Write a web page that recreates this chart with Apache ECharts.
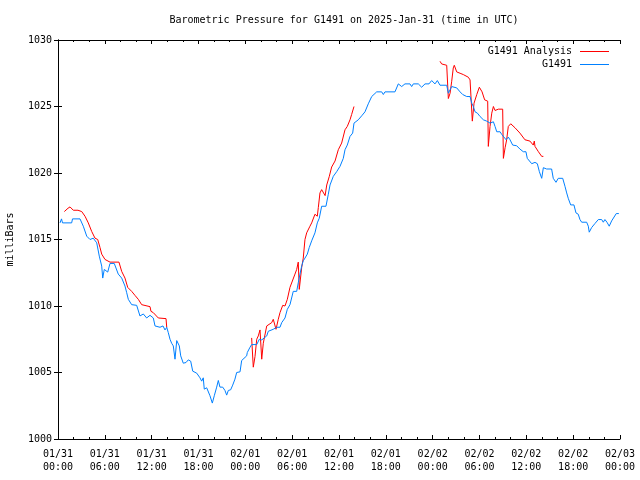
<!DOCTYPE html>
<html>
<head>
<meta charset="utf-8">
<script src="https://cdn.jsdelivr.net/npm/echarts@6/dist/echarts.min.js"></script>
<style>html,body{margin:0;padding:0;background:#fff}#c{width:640px;height:480px}</style>
</head>
<body>
<div id="c"></div>
<script>
// hours since 2025-01-31 00:00 UTC
const tickLabels = ["01/31\n00:00","01/31\n06:00","01/31\n12:00","01/31\n18:00","02/01\n00:00","02/01\n06:00","02/01\n12:00","02/01\n18:00","02/02\n00:00","02/02\n06:00","02/02\n12:00","02/02\n18:00","02/03\n00:00"];

const obsHours = [0.26,0.45,0.58,1.75,1.86,2.82,3.24,3.68,4.10,4.52,4.96,5.29,5.60,5.73,5.93,6.37,6.66,7.21,7.72,8.16,8.58,8.80,9.01,9.44,10.08,10.50,10.93,11.36,11.79,12.21,12.43,13.07,13.45,13.71,13.93,14.13,14.35,14.56,14.77,14.99,15.21,15.54,15.72,16.05,16.40,16.69,17.00,17.26,17.77,18.19,18.41,18.61,18.74,19.05,19.25,19.47,19.77,20.02,20.33,20.54,20.75,21.10,21.39,21.61,21.82,22.12,22.38,22.67,22.89,23.32,23.53,23.74,24.17,24.25,24.60,24.81,25.46,25.79,26.10,26.30,26.74,26.94,27.16,27.58,28.02,28.44,28.66,29.08,29.38,29.72,30.14,30.58,30.78,31.00,31.22,31.42,31.64,31.94,32.19,32.50,32.92,33.22,33.47,33.78,34.33,34.63,34.85,35.27,35.70,36.13,36.55,36.77,37.06,37.41,37.75,37.92,38.47,38.91,39.33,39.75,40.19,40.83,41.47,41.68,41.89,43.17,43.60,44.03,44.45,45.09,45.31,45.52,46.16,46.59,47.02,47.53,47.87,48.30,48.60,48.94,49.80,50.01,50.23,50.44,51.08,51.51,51.85,52.36,52.79,53.01,53.21,53.43,53.73,54.07,54.50,54.92,55.13,55.35,55.57,55.78,55.99,56.21,56.64,56.85,57.06,57.41,57.69,57.91,58.25,58.76,59.18,59.61,59.95,60.12,60.34,60.69,61.11,61.41,61.67,61.97,62.18,62.60,63.24,63.45,63.80,64.09,64.66,64.95,65.17,65.37,65.68,66.10,66.36,66.65,66.87,67.09,67.73,67.94,68.06,68.37,68.79,69.22,69.65,69.86,70.07,70.33,70.62,70.93,71.17,71.52,71.85];
const obsPressure = [1016.25,1016.55,1016.25,1016.25,1016.55,1016.55,1016.0,1015.25,1015.0,1015.1,1014.75,1013.75,1013.0,1012.1,1012.75,1012.55,1013.2,1013.2,1012.4,1012.1,1011.5,1011.0,1010.5,1010.1,1010.05,1009.25,1009.4,1009.1,1009.3,1009.1,1008.5,1008.4,1008.5,1008.2,1008.4,1008.0,1007.5,1007.2,1007.0,1006.0,1007.4,1007.0,1006.25,1005.7,1005.75,1005.95,1005.85,1005.1,1004.95,1004.6,1004.35,1004.6,1003.75,1003.85,1003.75,1003.25,1002.7,1003.25,1003.9,1004.4,1003.9,1003.9,1003.65,1003.3,1003.65,1003.7,1004.05,1004.5,1005.0,1005.05,1005.9,1006.0,1006.25,1006.5,1006.9,1007.1,1007.1,1007.5,1007.45,1007.55,1007.75,1008.1,1007.95,1008.25,1008.4,1008.4,1008.75,1009.1,1009.75,1010.1,1011.1,1011.1,1011.75,1012.4,1013.0,1013.4,1013.6,1013.9,1014.4,1014.9,1015.5,1016.25,1016.6,1017.5,1017.5,1018.4,1019.1,1019.75,1020.1,1020.5,1021.1,1021.75,1022.1,1022.75,1023.0,1023.75,1024.0,1024.3,1024.6,1025.2,1025.75,1026.1,1026.1,1025.9,1026.1,1026.1,1026.7,1026.5,1026.7,1026.7,1026.5,1026.7,1026.7,1026.45,1026.7,1026.7,1026.95,1026.7,1026.95,1026.6,1026.6,1026.0,1026.1,1026.5,1026.4,1026.1,1025.9,1025.75,1025.75,1025.25,1025.0,1024.6,1024.5,1024.25,1024.0,1023.9,1024.05,1023.75,1023.6,1023.85,1023.5,1023.1,1023.1,1022.9,1022.8,1022.5,1022.7,1022.5,1022.1,1022.05,1021.8,1021.6,1021.6,1021.1,1021.2,1020.7,1020.8,1020.7,1020.1,1019.6,1020.4,1020.3,1020.3,1019.6,1019.3,1019.6,1019.6,1019.0,1018.5,1018.1,1017.6,1017.6,1017.0,1016.9,1016.5,1016.3,1016.3,1016.0,1015.55,1015.9,1016.2,1016.5,1016.5,1016.3,1016.5,1016.3,1016.0,1016.4,1016.55,1016.95,1016.95];

// null marks a gap between analysis runs
const anaHours = [0.81,1.02,1.28,1.54,1.75,1.96,2.56,3.04,3.46,3.88,4.32,4.74,5.09,5.38,5.60,6.02,6.66,7.81,8.16,8.58,8.93,9.44,9.86,10.29,10.72,11.79,11.91,12.21,12.85,13.84,13.93,
  null,
  24.81,25.02,25.24,25.46,25.66,25.88,26.10,26.30,26.74,26.94,27.38,27.58,27.93,28.22,28.44,28.79,29.08,29.38,29.72,29.94,30.36,30.58,30.78,30.91,31.04,31.22,31.42,31.64,31.86,32.28,32.50,32.92,33.22,33.35,33.56,33.78,33.98,34.22,34.43,34.76,35.06,35.27,35.49,35.91,36.34,36.77,37.06,37.41,37.62,37.92,
  null,
  48.94,49.15,49.80,50.01,50.23,50.44,50.64,50.77,51.08,51.51,51.93,52.57,52.79,53.01,53.08,53.30,53.65,53.98,54.33,54.66,55.05,55.13,55.35,55.57,55.78,55.99,56.41,56.97,57.06,57.28,57.48,57.69,58.00,58.55,59.18,59.82,60.46,60.89,61.02,61.11,61.55,61.97,62.18];
const anaPressure = [1017.1,1017.2,1017.35,1017.45,1017.55,1017.2,1017.2,1017.1,1016.75,1016.25,1015.6,1015.1,1015.0,1014.4,1013.9,1013.5,1013.3,1013.3,1012.6,1012.1,1011.4,1011.1,1010.8,1010.5,1010.1,1009.95,1009.6,1009.5,1009.1,1009.05,1008.4,
  null,
  1007.6,1005.4,1006.2,1007.5,1007.75,1008.2,1006.0,1007.2,1008.5,1008.6,1008.75,1009.0,1008.25,1009.0,1009.5,1010.05,1010.0,1010.5,1011.4,1011.5,1012.4,1012.75,1013.3,1011.25,1011.4,1012.9,1013.6,1015.0,1015.5,1016.0,1016.25,1016.9,1016.75,1017.4,1018.5,1018.75,1018.7,1018.3,1019.1,1019.75,1020.45,1020.4,1020.9,1021.75,1022.25,1023.25,1023.5,1024.0,1024.4,1025.0,
  null,
  1028.4,1028.2,1028.1,1025.6,1026.0,1026.9,1027.9,1028.1,1027.6,1027.5,1027.4,1027.2,1027.0,1026.9,1023.9,1025.25,1025.9,1026.45,1026.1,1025.5,1025.4,1022.0,1023.5,1024.5,1025.0,1024.7,1024.8,1024.8,1021.1,1021.9,1022.5,1023.5,1023.7,1023.4,1023.0,1022.5,1022.4,1022.1,1022.4,1022.0,1021.6,1021.25,1021.25];

const FONT = "DejaVu Sans Mono";
const obsData = obsHours.map((h, i) => [h, obsPressure[i]]);
const anaData = anaHours.map((h, i) => h === null ? '-' : [h, anaPressure[i]]);

const chart = echarts.init(document.getElementById('c'), null, {renderer: 'canvas'});
const axLine = {show: true, lineStyle: {color: '#000', width: 1}};
chart.setOption({
  animation: false,
  backgroundColor: '#fff',
  title: {
    text: 'Barometric Pressure for G1491 on 2025-Jan-31 (time in UTC)',
    left: 339, top: 10, textAlign: 'center',
    textStyle: {fontFamily: FONT, fontSize: 10, fontWeight: 'normal', color: '#000'}
  },
  legend: {
    orient: 'vertical', right: 31, top: 46, align: 'right', padding: 0,
    itemWidth: 29, itemHeight: 1, itemGap: 2, icon: 'rect',
    textStyle: {fontFamily: FONT, fontSize: 10, color: '#000', lineHeight: 11, padding: [0, 3, 0, 0]},
    data: ['G1491 Analysis', 'G1491']
  },
  grid: {left: 58, right: 20, top: 40, bottom: 41, show: false, containLabel: false, outerBoundsMode: 'none'},
  xAxis: [{
    type: 'value', min: 0, max: 72, interval: 6, position: 'bottom',
    axisLine: axLine,
    axisTick: {show: true, inside: true, length: 4, lineStyle: {color: '#000'}},
    minorTick: {show: true, splitNumber: 3, length: 2, lineStyle: {color: '#000'}},
    splitLine: {show: false},
    axisLabel: {
      margin: 9, fontFamily: FONT, fontSize: 10, color: '#000', lineHeight: 13,
      formatter: v => tickLabels[Math.round(v / 6)]
    }
  }, {
    type: 'value', min: 0, max: 72, interval: 6, position: 'top',
    axisLine: axLine,
    axisTick: {show: true, inside: true, length: 4, lineStyle: {color: '#000'}},
    minorTick: {show: true, splitNumber: 3, length: 2, lineStyle: {color: '#000'}},
    splitLine: {show: false}, axisLabel: {show: false}
  }],
  yAxis: [{
    type: 'value', min: 1000, max: 1030, interval: 5, position: 'left',
    name: 'milliBars', nameLocation: 'middle', nameGap: 43, nameRotate: 90,
    nameTextStyle: {fontFamily: FONT, fontSize: 10, color: '#000'},
    axisLine: axLine,
    axisTick: {show: true, inside: true, length: 4, lineStyle: {color: '#000'}},
    splitLine: {show: false},
    axisLabel: {margin: 6, fontFamily: FONT, fontSize: 10, color: '#000', formatter: v => String(v)}
  }, {
    type: 'value', min: 1000, max: 1030, interval: 5, position: 'right',
    axisLine: axLine,
    axisTick: {show: true, inside: true, length: 4, lineStyle: {color: '#000'}},
    splitLine: {show: false}, axisLabel: {show: false}
  }],
  series: [{
    name: 'G1491 Analysis', type: 'line', data: anaData, connectNulls: false,
    showSymbol: false, symbol: 'none', color: '#ff0000',
    lineStyle: {color: '#ff0000', width: 1}
  }, {
    name: 'G1491', type: 'line', data: obsData,
    showSymbol: false, symbol: 'none', color: '#0080ff',
    lineStyle: {color: '#0080ff', width: 1}
  }]
});
</script>
</body>
</html>
